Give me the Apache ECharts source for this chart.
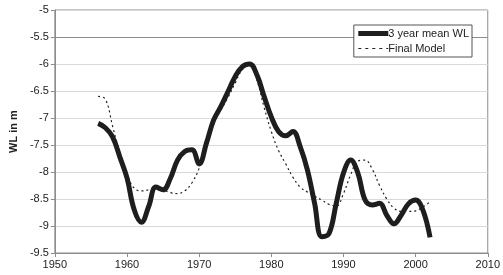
<!DOCTYPE html>
<html>
<head>
<meta charset="utf-8">
<script src="https://cdn.jsdelivr.net/npm/echarts@6/dist/echarts.min.js"></script>
<style>
  html, body { margin: 0; padding: 0; background: #fff; }
  #chart { width: 503px; height: 275px; }
</style>
</head>
<body>
<div id="chart"></div>
<script>
  // yearly values
  var meanYears = [1956, 1957, 1958, 1959, 1960, 1961, 1962, 1963, 1964, 1965, 1966, 1967, 1968, 1969, 1970,
    1971, 1972, 1973, 1974, 1975, 1976, 1977, 1978, 1979, 1980, 1981, 1982, 1983, 1984, 1985, 1986,
    1987, 1988, 1989, 1990, 1991, 1992, 1993, 1994, 1995, 1996, 1997, 1998, 1999, 2000, 2001, 2002];
  var meanWL = [-7.1, -7.18, -7.35, -7.72, -8.11, -8.7, -8.93, -8.64, -8.28, -8.33, -8.12, -7.78, -7.62, -7.59, -7.85,
    -7.47, -7.04, -6.79, -6.51, -6.23, -6.05, -6.0, -6.2, -6.6, -6.98, -7.25, -7.33, -7.25, -7.53, -7.96, -8.58,
    -9.2, -9.14, -8.58, -8.02, -7.78, -8.02, -8.52, -8.61, -8.58, -8.8, -8.96, -8.8, -8.59, -8.52, -8.7, -9.21];

  var modelYears = meanYears;
  var modelWL = [-6.6, -6.65, -7.15, -7.65, -8.05, -8.3, -8.35, -8.33, -8.3, -8.33, -8.38, -8.4, -8.35, -8.2, -7.93,
    -7.5, -7.1, -6.85, -6.62, -6.35, -6.1, -6.02, -6.3, -6.8, -7.25, -7.6, -7.85, -8.1, -8.28, -8.37, -8.45,
    -8.52, -8.6, -8.63, -8.4, -8.05, -7.8, -7.78, -7.95, -8.25, -8.5, -8.67, -8.73, -8.73, -8.72, -8.65, -8.55];

  var yTicks = [-9.5, -9, -8.5, -8, -7.5, -7, -6.5, -6, -5.5, -5];
  // darker line at -5.5 like the original
  var gridColors = yTicks.map(function (t) { return t === -5.5 ? '#8c8c8c' : '#d9d9d9'; });

  function pairs(xs, ys) {
    return xs.map(function (x, i) { return [x, ys[i]]; });
  }

  var myChart = echarts.init(document.getElementById('chart'));
  var font = '"Liberation Sans", Arial, sans-serif';

  myChart.setOption({
    animation: false,
    textStyle: { fontFamily: font },
    grid: {
      left: 43, right: 11, top: 10, bottom: 22,
      show: true, borderColor: '#8c8c8c', borderWidth: 1
    },
    legend: {
      right: 31, top: 25,
      orient: 'vertical',
      backgroundColor: '#fff',
      borderColor: '#555',
      borderWidth: 1,
      padding: [3, 3, 3, 2],
      itemGap: 4,
      itemWidth: 30,
      itemHeight: 12,
      itemStyle: { opacity: 0 },
      textStyle: { fontSize: 11, color: '#222', fontFamily: font, padding: [0, 0, 0, -5] },
      data: [
        { name: '3 year mean WL', lineStyle: { width: 5 } },
        { name: 'Final Model', lineStyle: { width: 1.2, type: [3, 4] } }
      ]
    },
    xAxis: {
      type: 'value',
      min: 1950, max: 2010, interval: 10,
      axisLine: { lineStyle: { color: '#8c8c8c' } },
      axisTick: { show: true, length: 4, lineStyle: { color: '#8c8c8c' } },
      axisLabel: { fontSize: 11, color: '#222', margin: 6, formatter: function (v) { return String(v); } },
      splitLine: { show: false }
    },
    yAxis: {
      type: 'value',
      min: -9.5, max: -5, interval: 0.5,
      name: 'WL in m',
      nameLocation: 'middle',
      nameGap: 34,
      nameTextStyle: { fontSize: 11, fontWeight: 'bold', color: '#222' },
      axisLine: { show: true, lineStyle: { color: '#8c8c8c' } },
      axisTick: { show: true, length: 4, lineStyle: { color: '#8c8c8c' } },
      axisLabel: { fontSize: 11, color: '#222', margin: 6 },
      splitLine: { show: true, lineStyle: { color: gridColors, width: 1 } }
    },
    series: [
      {
        name: '3 year mean WL',
        type: 'line',
        smooth: 0.4,
        symbol: 'none',
        data: pairs(meanYears, meanWL),
        lineStyle: { color: '#1e1e1e', width: 5 },
        itemStyle: { color: '#1e1e1e' },
        z: 3
      },
      {
        name: 'Final Model',
        type: 'line',
        smooth: 0.4,
        symbol: 'none',
        data: pairs(modelYears, modelWL),
        lineStyle: { color: '#222', width: 1.2, type: [2, 3] },
        itemStyle: { color: '#222' },
        z: 4
      }
    ]
  });
</script>
</body>
</html>
